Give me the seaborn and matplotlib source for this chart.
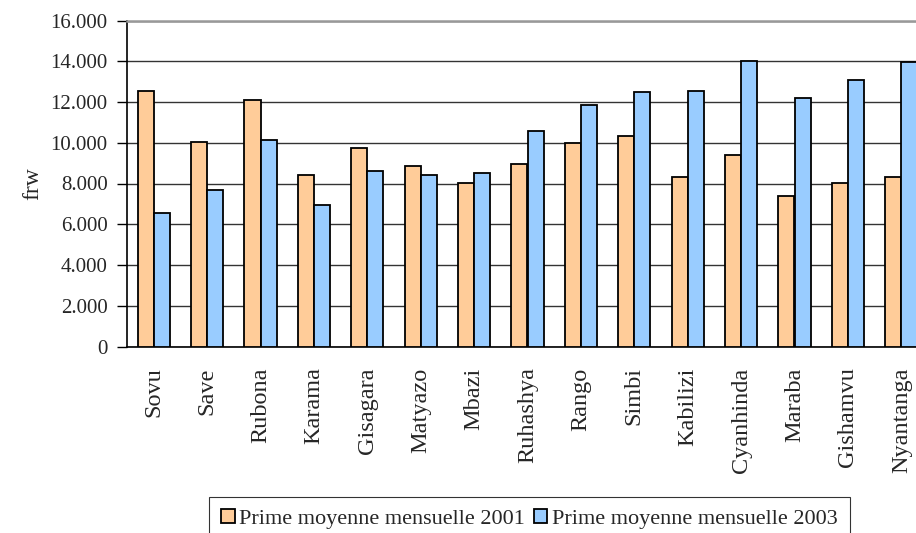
import numpy as np
import pandas as pd
import matplotlib
matplotlib.use("Agg")
import matplotlib.pyplot as plt
from matplotlib.ticker import FuncFormatter, FixedLocator
import seaborn as sns

# Average monthly bonus per tea factory (frw)
factories = ["Sovu", "Save", "Rubona", "Karama", "Gisagara", "Matyazo", "Mbazi",
             "Ruhashya", "Rango", "Simbi", "Kabilizi", "Cyanhinda", "Maraba",
             "Gishamvu", "Nyantanga"]
prime_2001 = [12560, 10060, 12120, 8420, 9730, 8860, 8010, 8950, 9980, 10320,
              8340, 9390, 7390, 8010, 8340]
prime_2003 = [6530, 7660, 10140, 6950, 8590, 8440, 8510, 10570, 11860, 12480,
              12560, 14020, 12220, 13070, 13940]
series_names = ["Prime moyenne mensuelle 2001", "Prime moyenne mensuelle 2003"]
y_ticks = [0, 2000, 4000, 6000, 8000, 10000, 12000, 14000, 16000]

df = pd.DataFrame({
    "usine": factories * 2,
    "prime": prime_2001 + prime_2003,
    "serie": [series_names[0]] * len(factories) + [series_names[1]] * len(factories),
})

sns.set_style("white")
plt.rcParams["font.family"] = ["Liberation Serif", "DejaVu Serif"]

fig = plt.figure(figsize=(9.16, 5.33), dpi=100)
ax = fig.add_axes([127 / 916, 1 - 346.5 / 533, 801 / 916, 326 / 533])

sns.barplot(data=df, x="usine", y="prime", hue="serie", order=factories,
            hue_order=series_names, palette=["#FFCC99", "#99CCFF"],
            saturation=1, width=0.6, gap=0, edgecolor="black", linewidth=1.3,
            errorbar=None, ax=ax, zorder=3)

ax.set_xlim(-0.5, len(factories) - 0.5)
ax.set_ylim(0, 16000)
ax.yaxis.set_major_locator(FixedLocator(y_ticks))
ax.yaxis.set_major_formatter(FuncFormatter(lambda v, p: f"{int(v):,}".replace(",", ".")))
ax.grid(axis="y", color="#333333", linewidth=1.0, zorder=0)
ax.set_axisbelow(True)

# category boundary ticks below the axis, labels at centres
ax.xaxis.set_minor_locator(FixedLocator(np.arange(-0.5, len(factories), 1.0)))
ax.tick_params(axis="x", which="major", length=0, pad=15, labelsize=17.5, labelrotation=90)
ax.tick_params(axis="x", which="minor", length=7, width=1, color="black", direction="out")
ax.tick_params(axis="y", which="major", length=7, width=1, color="black",
               direction="out", labelsize=15, pad=7, left=True)

for lab in ax.get_xticklabels():
    lab.set_verticalalignment("top")

ax.spines["left"].set_color("black")
ax.spines["bottom"].set_color("black")
ax.spines["left"].set_linewidth(1.2)
ax.spines["bottom"].set_linewidth(1.2)
ax.spines["top"].set_color("#999999")
ax.spines["top"].set_linewidth(1.8)
ax.spines["right"].set_visible(False)

ax.set_xlabel("")
ax.set_ylabel("frw", fontsize=17, labelpad=5)

handles, labels = ax.get_legend_handles_labels()
ax.legend_.remove()
leg = fig.legend(handles, labels, loc="upper center",
                 bbox_to_anchor=(529.5 / 916, 1 - 497 / 533), ncol=2,
                 frameon=True, fancybox=False, edgecolor="black", fontsize=16,
                 handlelength=0.6, handleheight=0.6, handletextpad=0.2,
                 columnspacing=0.4, borderpad=0.55, borderaxespad=0)
leg.get_frame().set_linewidth(0.8)

fig.savefig("out.png", dpi=100)
